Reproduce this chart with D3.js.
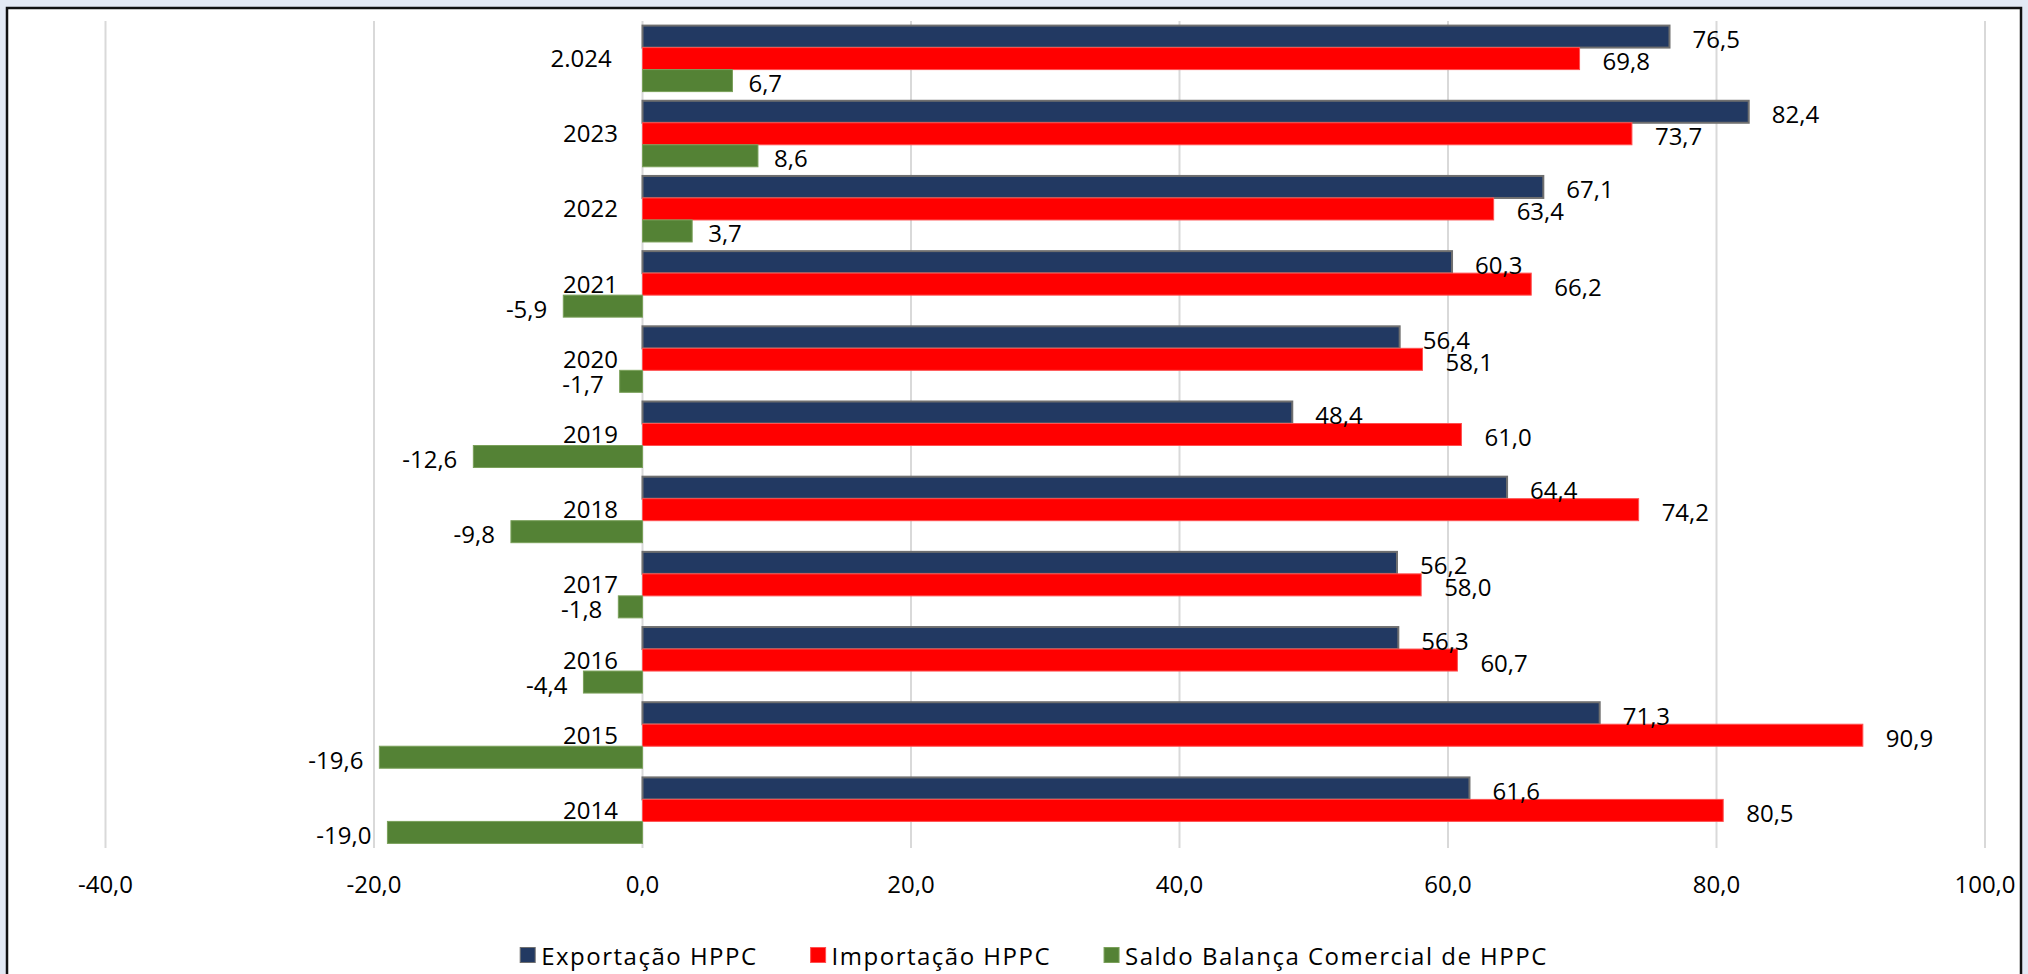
<!DOCTYPE html>
<html>
<head>
<meta charset="utf-8">
<script src="https://cdn.jsdelivr.net/npm/d3@7"></script>
<style>
  html, body { margin: 0; padding: 0; background: #e3e9f4; }
  svg { display: block; }
  text { font-family: "Open Sans", "Noto Sans", sans-serif; fill: #000; }
</style>
</head>
<body>
<svg id="chart" width="2028" height="974"></svg>
<script>
// ---- data ----
const categories = ["2.024 ", "2023", "2022", "2021", "2020", "2019", "2018", "2017", "2016", "2015", "2014"];
const seriesNames = ["Exportação HPPC", "Importação HPPC", "Saldo Balança Comercial de HPPC"];
const exportacao = [76.5, 82.4, 67.1, 60.3, 56.4, 48.4, 64.4, 56.2, 56.3, 71.3, 61.6];
const importacao = [69.8, 73.7, 63.4, 66.2, 58.1, 61.0, 74.2, 58.0, 60.7, 90.9, 80.5];
const saldo = [6.7, 8.6, 3.7, -5.9, -1.7, -12.6, -9.8, -1.8, -4.4, -19.6, -19.0];
const xTicks = [-40, -20, 0, 20, 40, 60, 80, 100];
const xDomain = [-40, 100];

// ---- styles ----
const colors = ["#223962", "#ff0000", "#548235"];
const strokes = ["#6f6f6f", "#ff5050", "#7aa05a"];
const labelGap = [23, 23, 16];

const svg = d3.select("#chart");

// frame
svg.append("rect").attr("x", 7).attr("y", 8).attr("width", 2014).attr("height", 1010)
  .attr("fill", "#ffffff").attr("stroke", "#111").attr("stroke-width", 2.5);

const locale = d3.formatLocale({decimal: ",", thousands: ".", grouping: [3], currency: ["", ""], minus: "-"});
const fmt = locale.format(".1f");

const x = d3.scaleLinear().domain(xDomain).range([105.5, 1985]);
const y = d3.scaleBand().domain(categories).range([21, 848]).paddingInner(0.122).paddingOuter(0.061);
const ySub = d3.scaleBand().domain(seriesNames).range([0, y.bandwidth()]);

// gridlines
svg.append("g").selectAll("line").data(xTicks).join("line")
  .attr("x1", d => x(d)).attr("x2", d => x(d))
  .attr("y1", 21).attr("y2", 848)
  .attr("stroke", "#d9d9d9").attr("stroke-width", 2);

// x axis tick labels
svg.append("g").selectAll("text").data(xTicks).join("text")
  .attr("x", d => x(d)).attr("y", 883)
  .attr("text-anchor", "middle").attr("dominant-baseline", "central")
  .style("font-size", "24px")
  .text(d => fmt(d));

const seriesData = [exportacao, importacao, saldo];

// bars
seriesData.forEach((vals, si) => {
  const g = svg.append("g");
  g.selectAll("rect").data(vals).join("rect")
    .attr("x", d => x(Math.min(0, d)))
    .attr("width", d => Math.abs(x(d) - x(0)))
    .attr("y", (d, i) => y(categories[i]) + ySub(seriesNames[si]))
    .attr("height", ySub.bandwidth())
    .attr("fill", colors[si])
    .attr("stroke", strokes[si])
    .attr("stroke-width", si === 0 ? 2 : 1);
});

// category labels
svg.append("g").selectAll("text").data(categories).join("text")
  .attr("x", 618)
  .attr("y", d => y(d) + y.bandwidth() / 2 - 1)
  .attr("text-anchor", "end").attr("dominant-baseline", "central")
  .attr("xml:space", "preserve")
  .style("white-space", "pre")
  .style("font-size", "24px")
  .text(d => d);

// data labels
seriesData.forEach((vals, si) => {
  svg.append("g").selectAll("text").data(vals).join("text")
    .attr("x", d => d >= 0 ? x(d) + labelGap[si] : x(d) - labelGap[si])
    .attr("y", (d, i) => y(categories[i]) + ySub(seriesNames[si]) + ySub.bandwidth() / 2 + 2)
    .attr("text-anchor", d => d >= 0 ? "start" : "end")
    .attr("dominant-baseline", "central")
    .style("font-size", "24px")
    .text(d => fmt(d));
});

// legend
const legend = svg.append("g");
const items = legend.selectAll("g").data(seriesNames).join("g");
items.append("rect").attr("width", 15).attr("height", 15).attr("y", 947.5)
  .attr("fill", (d, i) => colors[i]).attr("stroke", (d, i) => strokes[i]).attr("stroke-width", 1);
items.append("text").attr("x", 21).attr("y", 955)
  .attr("dominant-baseline", "central").style("font-size", "24px")
  .style("letter-spacing", "1.5px")
  .text(d => d);
const widths = [];
items.each(function() { widths.push(21 + this.querySelector("text").getComputedTextLength()); });
const gap = 53;
const total = d3.sum(widths) + gap * (widths.length - 1);
let cx = 1034 - total / 2;
items.each(function(d, i) {
  d3.select(this).attr("transform", `translate(${cx},0)`);
  cx += widths[i] + gap;
});
</script>
</body>
</html>
